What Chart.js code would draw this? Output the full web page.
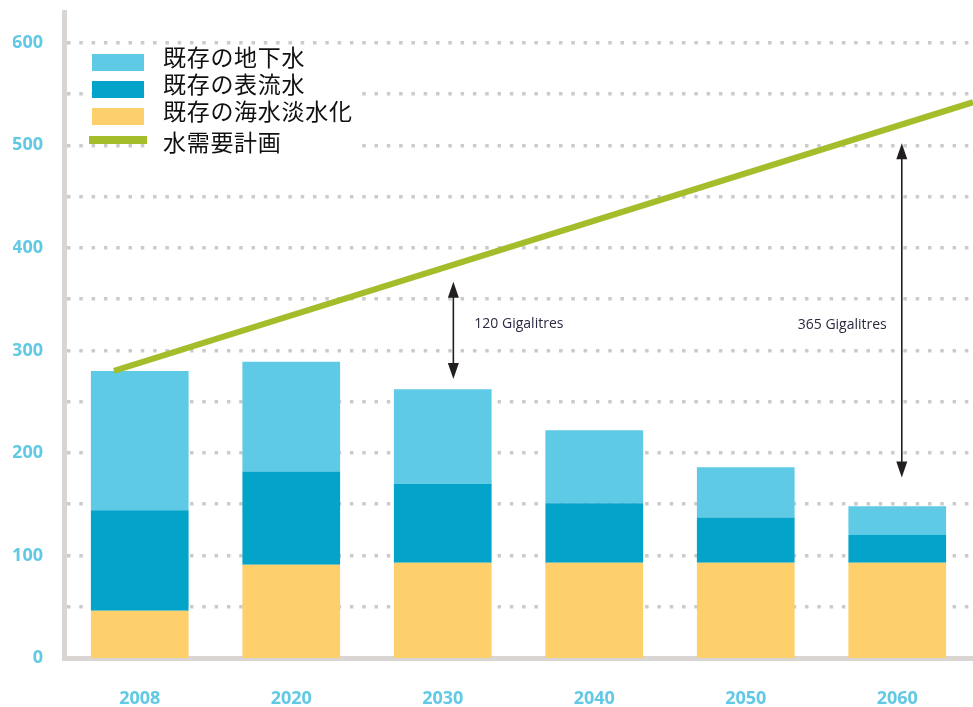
<!DOCTYPE html>
<html lang="ja">
<head>
<meta charset="UTF-8" />
<title>水需要計画</title>
<script src="https://cdn.jsdelivr.net/npm/chart.js@4.4.1/dist/chart.umd.min.js"></script>
<style>
  html, body { margin: 0; padding: 0; background: #fff; }
</style>
</head>
<body>
<canvas id="chart" width="973" height="707"></canvas>
<script>
  const years = ["2008", "2020", "2030", "2040", "2050", "2060"];
  const groundwater = [136, 107, 92, 71, 49, 28];   // 既存の地下水
  const surfaceWater = [98, 91, 77, 58, 44, 27];    // 既存の表流水
  const desalination = [46, 91, 93, 93, 93, 93];    // 既存の海水淡水化

  // demand line, x in category index units
  const demandX = [-0.17, 5.5];
  const demandY = [280, 542];

  // gap arrows
  const gapLabels = ["120 Gigalitres", "365 Gigalitres"];
  const gapX = [2.07, 5.03];
  const gapTop = [367, 502];
  const gapBottom = [272, 176];
  const gapTextY = [326, 325];

  const tickBlue = "#62c9e5";
  const colGround = "#5ecae5";
  const colSurface = "#04a3ca";
  const colDesal = "#fdd06c";
  const colDemand = "#a4bd2b";

  const legendPlugin = {
    id: "sideLegend",
    beforeDatasetsDraw(chart) {
      const ctx = chart.ctx;
      const items = [
        { label: "既存の地下水", color: colGround, line: false },
        { label: "既存の表流水", color: colSurface, line: false },
        { label: "既存の海水淡水化", color: colDesal, line: false },
        { label: "水需要計画", color: colDemand, line: true },
      ];
      ctx.save();
      ctx.fillStyle = "#fff";
      ctx.fillRect(148, 49, 212, 106);
      ctx.font = "23px 'Noto Sans CJK JP'";
      ctx.letterSpacing = "0.7px";
      ctx.textBaseline = "middle";
      let y = 57;
      items.forEach((it, i) => {
        ctx.fillStyle = it.color;
        if (it.line) {
          ctx.fillRect(89, 136, 58, 8);
        } else {
          ctx.fillRect(92, y - 3, 52, 17);
        }
        ctx.fillStyle = "#111";
        ctx.fillText(it.label, 163, i === 3 ? 142 : y);
        y += 27;
      });
      ctx.restore();
    },
  };

  const gapPlugin = {
    id: "gaps",
    afterDatasetsDraw(chart) {
      const ctx = chart.ctx;
      const xs = chart.scales.xLine;
      const ys = chart.scales.y;
      ctx.save();
      ctx.lineWidth = 1.6;
      for (let i = 0; i < gapLabels.length; i++) {
        const x = xs.getPixelForValue(gapX[i]);
        const t = ys.getPixelForValue(gapTop[i]);
        const b = ys.getPixelForValue(gapBottom[i]);
        ctx.strokeStyle = "#231f20";
        ctx.fillStyle = "#231f20";
        ctx.beginPath();
        ctx.moveTo(x, t + 10);
        ctx.lineTo(x, b - 10);
        ctx.stroke();
        ctx.beginPath();
        ctx.moveTo(x, t);
        ctx.lineTo(x - 5.5, t + 16);
        ctx.lineTo(x + 5.5, t + 16);
        ctx.closePath();
        ctx.fill();
        ctx.beginPath();
        ctx.moveTo(x, b);
        ctx.lineTo(x - 5.5, b - 16);
        ctx.lineTo(x + 5.5, b - 16);
        ctx.closePath();
        ctx.fill();

        ctx.font = "14px 'Open Sans'";
        ctx.fillStyle = "#2a2a40";
        ctx.textBaseline = "middle";
        const ty = ys.getPixelForValue(gapTextY[i]);
        if (i === 0) {
          ctx.textAlign = "left";
          ctx.fillText(gapLabels[i], x + 21, ty);
        } else {
          ctx.textAlign = "right";
          ctx.fillText(gapLabels[i], x - 15, ty);
        }
      }
      ctx.restore();
    },
  };

  const ctx = document.getElementById("chart").getContext("2d");
  new Chart(ctx, {
    type: "bar",
    data: {
      labels: years,
      datasets: [
        { label: "既存の海水淡水化", data: desalination, backgroundColor: colDesal, order: 1 },
        { label: "既存の表流水", data: surfaceWater, backgroundColor: colSurface, order: 1 },
        { label: "既存の地下水", data: groundwater, backgroundColor: colGround, order: 1 },
        {
          type: "line",
          label: "水需要計画",
          data: demandX.map((x, i) => ({ x: x, y: demandY[i] })),
          xAxisID: "xLine",
          borderColor: colDemand,
          borderWidth: 6,
          pointRadius: 0,
          fill: false,
          order: 0,
        },
      ],
    },
    options: {
      responsive: false,
      animation: false,
      devicePixelRatio: 1,
      layout: { padding: { left: 13, top: 12, right: 0, bottom: 0 } },
      datasets: { bar: { categoryPercentage: 1, barPercentage: 0.645, grouped: false } },
      plugins: { legend: { display: false }, tooltip: { enabled: false } },
      scales: {
        x: {
          stacked: true,
          grid: { display: false, drawTicks: false },
          border: { color: "#d9d5d2", width: 5 },
          ticks: {
            color: tickBlue,
            padding: 30,
            maxRotation: 0,
            font: { family: "Open Sans", size: 18, weight: "bold" },
          },
          afterFit: (s) => {
            s.height = 49;
            s.paddingLeft = 0;
            s.paddingRight = 0;
          },
        },
        xLine: { type: "linear", min: -0.5, max: 5.5, display: false, offset: false },
        y: {
          stacked: true,
          min: 0,
          max: 630,
          afterBuildTicks: (s) => {
            s.ticks = s.ticks.filter((t) => t.value % 50 === 0);
          },
          afterFit: (s) => {
            s.width = 51;
            s.paddingTop = 0;
            s.paddingBottom = 0;
          },
          ticks: {
            stepSize: 50,
            padding: 21,
            color: tickBlue,
            font: { family: "Open Sans", size: 18, weight: "bold" },
            callback: (v) => (v % 100 === 0 ? v : ""),
          },
          grid: {
            color: "#cbcbcb",
            lineWidth: (c) => (c.tick && c.tick.value === 0 ? 0 : 3.5),
            drawTicks: false,
          },
          border: { color: "#d9d5d2", width: 5, dash: [3.5, 8.8] },
        },
      },
    },
    plugins: [legendPlugin, gapPlugin],
  });
</script>
</body>
</html>
